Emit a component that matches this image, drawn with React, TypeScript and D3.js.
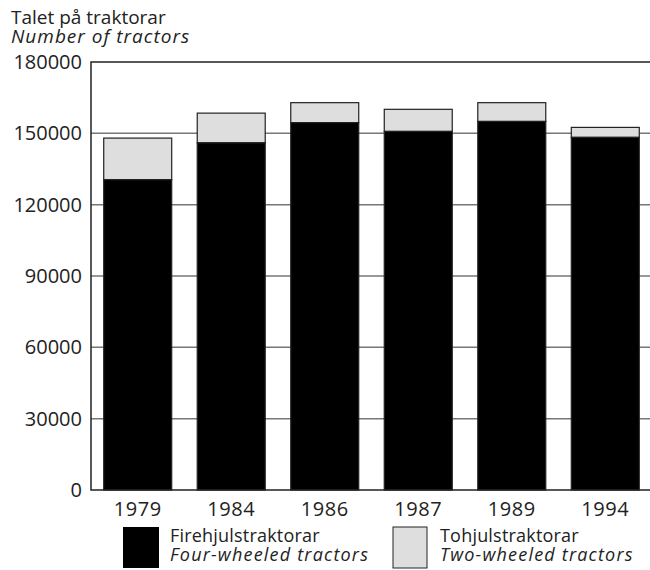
import React from "react";
import * as d3 from "d3";

const years = ["1979", "1984", "1986", "1987", "1989", "1994"];
const fourWheeled = [130500, 146000, 154500, 150800, 155000, 148300];
const twoWheeled = [17500, 12500, 8400, 9300, 7900, 4200];
const yTicks = [0, 30000, 60000, 90000, 120000, 150000, 180000];

const W = 650, H = 570;
const m = { left: 91, right: -2, top: 62, bottom: 80 };
const FONT = "'Open Sans', 'Noto Sans', sans-serif";

export default function App() {
  const x = d3.scaleBand().domain(years).range([m.left, W - m.right]).paddingInner(0.273).paddingOuter(0.136);
  const y = d3.scaleLinear().domain([0, 180000]).range([H - m.bottom, m.top]);
  const bottom = y(0);
  return (
    <svg width={W} height={H} style={{ position: "absolute", left: 0, top: 0, fontFamily: FONT }}>
      <rect width={W} height={H} fill="#fff" />
      <text x={11} y={24} fontSize={19} fill="#222">Talet på traktorar</text>
      <text x={11} y={43} fontSize={19} fill="#222" fontStyle="italic" letterSpacing={1}>Number of tractors</text>
      {yTicks.map((t) => (
        <g key={t}>
          {t > 0 && t < 180000 && (
            <line x1={m.left} x2={W} y1={y(t)} y2={y(t)} stroke="#777" strokeWidth={1.5} />
          )}
          <text x={82} y={y(t)} dy="0.35em" textAnchor="end" fontSize={20} fill="#222">{t}</text>
        </g>
      ))}
      {years.map((yr, i) => {
        const bx = x(yr)!;
        const bw = x.bandwidth();
        const top4 = y(fourWheeled[i]);
        const top2 = y(fourWheeled[i] + twoWheeled[i]);
        return (
          <g key={yr}>
            <rect x={bx} y={top2} width={bw} height={top4 - top2} fill="#dedede" stroke="#222" strokeWidth={1.2} />
            <rect x={bx} y={top4} width={bw} height={bottom - top4} fill="#000" stroke="#222" strokeWidth={1.2} />
            <text x={bx + bw / 2} y={516} textAnchor="middle" fontSize={20} fill="#222" letterSpacing={0.6}>{yr}</text>
          </g>
        );
      })}
      <path d={`M${W},${m.top}H${m.left}V${bottom}H${W}`} fill="none" stroke="#222" strokeWidth={1.5} />
      <rect x={123} y={527} width={36} height={41} fill="#000" />
      <text x={170} y={542} fontSize={18} fill="#222" letterSpacing={0.2}>Firehjulstraktorar</text>
      <text x={170} y={561} fontSize={18} fill="#222" fontStyle="italic" letterSpacing={1.2}>Four-wheeled tractors</text>
      <rect x={393} y={527} width={34} height={41} fill="#dedede" stroke="#222" strokeWidth={1} />
      <text x={440} y={542} fontSize={18} fill="#222" letterSpacing={0.2}>Tohjulstraktorar</text>
      <text x={440} y={561} fontSize={18} fill="#222" fontStyle="italic" letterSpacing={1.2}>Two-wheeled tractors</text>
    </svg>
  );
}
